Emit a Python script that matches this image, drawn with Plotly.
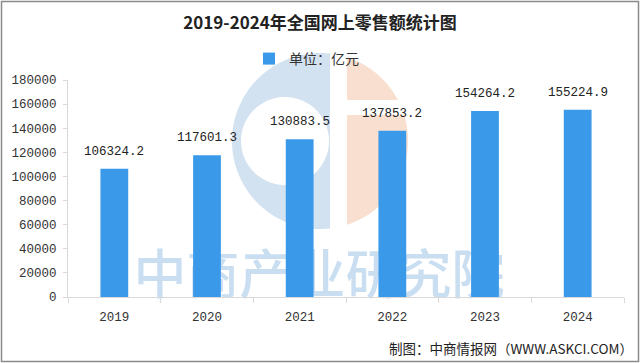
import numpy as np
import plotly.graph_objects as go

# ---- data ----
years = ["2019", "2020", "2021", "2022", "2023", "2024"]
sales = [106324.2, 117601.3, 130883.5, 137853.2, 154264.2, 155224.9]
value_labels = ["106324.2", "117601.3", "130883.5", "137853.2", "154264.2", "155224.9"]
y_ticks = [0, 20000, 40000, 60000, 80000, 100000, 120000, 140000, 160000, 180000]
title_text = "2019-2024年全国网上零售额统计图"
legend_name = "单位：亿元"
source_text = "制图：中商情报网（WWW.ASKCI.COM）"
watermark_text = "中商产业研究院"

# ---- layout geometry (pixels) ----
W_FIG, H_FIG = 640, 363
ML, MR, MT, MB = 68, 16, 80, 66
PW = W_FIG - ML - MR
PH = H_FIG - MT - MB
BOTTOM = H_FIG - MB

def pp(x, y):
    """pixel -> paper coords"""
    return (x - ML) / PW, (BOTTOM - y) / PH

BAR_COLOR = "#3b99e9"
MONO = "Liberation Mono, DejaVu Sans Mono, monospace"
CJK = "Noto Sans CJK SC, Noto Sans, sans-serif"

# ---- logo watermark (decoration) ----
cx, cy, R = 320, 141, 88
gl, gr = 330, 347
icx, icy, ir = 285, 141, 44

def path_from(points):
    s = ""
    for i, (x, y) in enumerate(points):
        px_, py_ = pp(x, y)
        s += ("M" if i == 0 else "L") + f"{px_:.5f},{py_:.5f} "
    return s + "Z"

# blue C
t0 = -np.arccos((gl - cx) / R)
span = 2 * np.pi - 2 * np.arccos((gl - cx) / R)
ts = np.linspace(t0, t0 - span, 90)
pts = [(cx + R * np.cos(t), cy + R * np.sin(t)) for t in ts]
pts.append((gl, icy))
ts2 = np.linspace(0, 2 * np.pi, 90)
pts += [(icx + ir * np.cos(t), icy + ir * np.sin(t)) for t in ts2]
pts.append((gl, icy))
blue_path = path_from(pts)

# peach pieces
ga, gb = 100, 115
ta = np.arctan2(ga - cy, np.sqrt(R**2 - (ga - cy) ** 2))
ttop = np.arctan2(-np.sqrt(R**2 - (gr - cx) ** 2), gr - cx)
pts = [(gr, cy - np.sqrt(R**2 - (gr - cx) ** 2)), (gr, ga)]
pts += [(cx + R * np.cos(t), cy + R * np.sin(t)) for t in np.linspace(ta, ttop, 40)]
peach_top = path_from(pts)

tb = np.arctan2(gb - cy, np.sqrt(R**2 - (gb - cy) ** 2))
tbot = np.arctan2(np.sqrt(R**2 - (gr - cx) ** 2), gr - cx)
pts = [(gr, gb)]
pts += [(cx + R * np.cos(t), cy + R * np.sin(t)) for t in np.linspace(tb, tbot, 60)]
peach_bot = path_from(pts)

LOGO_BLUE = "#d3e2f0"
LOGO_PEACH = "#f9dfcf"

shapes = [
    dict(type="path", path=blue_path, xref="paper", yref="paper",
         fillcolor=LOGO_BLUE, line=dict(width=0), layer="below"),
    dict(type="path", path=peach_top, xref="paper", yref="paper",
         fillcolor=LOGO_PEACH, line=dict(width=0), layer="below"),
    dict(type="path", path=peach_bot, xref="paper", yref="paper",
         fillcolor=LOGO_PEACH, line=dict(width=0), layer="below"),
]
fx0, fy0 = pp(1.5, 361.5)
fx1, fy1 = pp(638.5, 1.5)
shapes.append(dict(type="rect", xref="paper", yref="paper", x0=fx0, y0=fy0, x1=fx1, y1=fy1,
                   line=dict(color="#8a8a8a", width=1.5), fillcolor="rgba(0,0,0,0)", layer="above"))

fig = go.Figure()

# watermark text on first (hidden) subplot, drawn under the bars' subplot
wx, wy = pp(319, 281)
fig.add_trace(go.Scatter(
    x=[wx], y=[wy], mode="text", text=[watermark_text],
    textfont=dict(family=CJK, size=53, color="#cadef1", weight=500),
    xaxis="x", yaxis="y", showlegend=False, hoverinfo="skip", cliponaxis=False,
))

# bars on second subplot (same domain)
fig.add_trace(go.Bar(
    x=years, y=sales, name=legend_name, marker=dict(color=BAR_COLOR, line=dict(width=0)),
    width=0.3, xaxis="x2", yaxis="y2", hoverinfo="x+y",
))

annotations = []
for i, (v, lab) in enumerate(zip(sales, value_labels)):
    annotations.append(dict(x=i, y=v, xref="x2", yref="y2", text=lab, showarrow=False,
                            yshift=17, yanchor="middle",
                            font=dict(family=MONO, size=12.5, color="#222222")))
sx, sy = pp(635, 348)
annotations.append(dict(x=sx, y=sy, xref="paper", yref="paper", text=source_text,
                        showarrow=False, xanchor="right", yanchor="middle",
                        font=dict(family=CJK, size=13.5, color="#222222")))

lx, ly = pp(249, 59)

fig.update_layout(
    width=W_FIG, height=H_FIG,
    margin=dict(l=ML, r=MR, t=MT, b=MB),
    paper_bgcolor="white", plot_bgcolor="rgba(0,0,0,0)",
    title=dict(text=title_text, x=0.5, xanchor="center", y=1 - 23 / H_FIG, yanchor="middle",
               font=dict(family=CJK, size=17, color="#222222", weight="bold")),
    showlegend=True,
    legend=dict(orientation="h", x=lx, y=ly, xanchor="left", yanchor="middle",
                font=dict(family=CJK, size=14, color="#333333"), bgcolor="rgba(0,0,0,0)"),
    xaxis=dict(domain=[0, 1], anchor="y", range=[0, 1], visible=False, fixedrange=True),
    yaxis=dict(domain=[0, 1], anchor="x", range=[0, 1], visible=False, fixedrange=True),
    xaxis2=dict(domain=[0, 1], anchor="y2", side="bottom", type="category",
                categoryorder="array", categoryarray=years, range=[-0.5, 5.5],
                showline=True, linecolor="#d9d9d9", linewidth=1,
                ticks="outside", ticklen=5, tickcolor="#d9d9d9", tickson="boundaries",
                ticklabelstandoff=8, showgrid=False, zeroline=False,
                tickfont=dict(family=MONO, size=12.5, color="#333333")),
    yaxis2=dict(domain=[0, 1], anchor="x2", side="left", range=[0, 180000],
                tickvals=y_ticks, ticktext=[str(t) for t in y_ticks],
                showline=True, linecolor="#d9d9d9", linewidth=1,
                ticks="outside", ticklen=4, tickcolor="#d9d9d9",
                ticklabelstandoff=4, showgrid=False, zeroline=False,
                tickfont=dict(family=MONO, size=12.5, color="#333333")),
    shapes=shapes,
    annotations=annotations,
)

fig.write_html("out.html", config={"displayModeBar": False},
               post_script="document.body.style.margin='0';")
